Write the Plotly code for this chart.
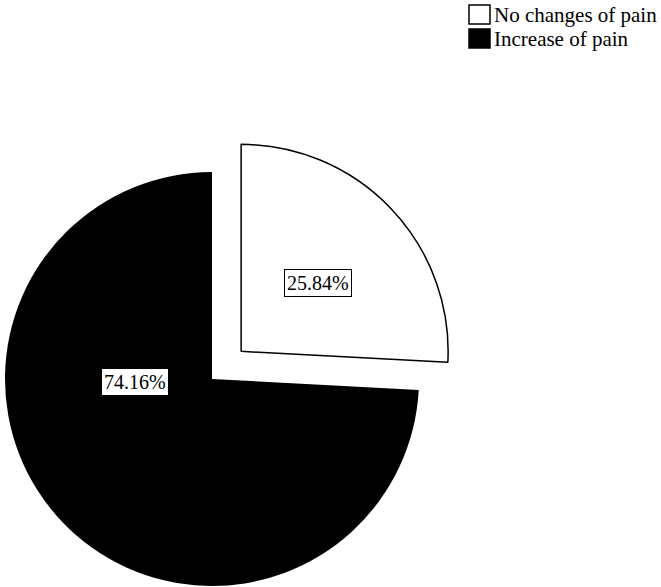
import math
import plotly.graph_objects as go

# Pain outcome shares (%)
labels = ["No changes of pain", "Increase of pain"]
shares = [25.84, 74.16]
colors = ["#FFFFFF", "#000000"]
pulls = [0.194, 0.0]

W, H = 661, 587
FONT = "'Liberation Serif', 'Times New Roman', 'DejaVu Serif', serif"

# Unexploded pie: centre and radius in pixels
CX, CY, R = 212, 379, 207


def to_paper(px, py):
    return px / W, 1 - py / H


def domain_for(cx, cy, r):
    return dict(x=[(cx - r) / W, (cx + r) / W],
                y=[1 - (cy + r) / H, 1 - (cy - r) / H])


total = sum(shares)
fig = go.Figure()

# One pie per slice so the exploded slice keeps the full radius;
# the other slices of each trace are left transparent.
start = 0.0
slice_centres = []
for i, (lab, val) in enumerate(zip(labels, shares)):
    sweep = 360.0 * val / total
    mid = math.radians(start + sweep / 2)
    start += sweep
    off = pulls[i] * R
    cx = CX + off * math.sin(mid)
    cy = CY - off * math.cos(mid)
    slice_centres.append((cx, cy))

order = sorted(range(len(labels)), key=lambda k: pulls[k])
for i in order:
    cx, cy = slice_centres[i]
    fig.add_trace(go.Pie(
        labels=labels,
        values=shares,
        sort=False,
        direction="clockwise",
        rotation=0,
        domain=domain_for(cx, cy, R),
        marker=dict(
            colors=[colors[j] if j == i else "rgba(0,0,0,0)" for j in range(len(labels))],
            line=dict(color=["#000000" if j == i else "rgba(0,0,0,0)" for j in range(len(labels))],
                      width=[1.5 if (j == i and colors[j] != "#000000") else 0 for j in range(len(labels))]),
        ),
        textinfo="none",
        hoverinfo="label+percent",
        showlegend=False,
    ))

annotations = []
shapes = []

# Boxed percentage labels
label_px = [(317.5, 283), (135, 381.5)]
for (px, py), val in zip(label_px, shares):
    x, y = to_paper(px, py)
    annotations.append(dict(
        x=x, y=y, xref="paper", yref="paper", xanchor="center", yanchor="middle",
        text=f"{val:.2f}%", showarrow=False,
        font=dict(family=FONT, size=20, color="#000000"),
        bgcolor="#FFFFFF", bordercolor="#000000", borderwidth=1, borderpad=2,
    ))

# Legend: swatches and entry names
for k, (lab, col) in enumerate(zip(labels, colors)):
    top = 5 + 24 * k
    x0, y0 = to_paper(469, top)
    x1, y1 = to_paper(490, top + 19)
    shapes.append(dict(type="rect", xref="paper", yref="paper",
                       x0=x0, y0=y1, x1=x1, y1=y0,
                       fillcolor=col, line=dict(color="#000000", width=1.5)))
    tx, ty = to_paper(492, top + 10)
    annotations.append(dict(
        x=tx, y=ty, xref="paper", yref="paper", xanchor="left", yanchor="middle",
        text=lab, showarrow=False,
        font=dict(family=FONT, size=21, color="#000000"),
    ))

fig.update_layout(
    width=W, height=H,
    margin=dict(l=0, r=0, t=0, b=0),
    paper_bgcolor="#FFFFFF",
    plot_bgcolor="#FFFFFF",
    showlegend=False,
    annotations=annotations,
    shapes=shapes,
)

fig.write_html("out.html")
